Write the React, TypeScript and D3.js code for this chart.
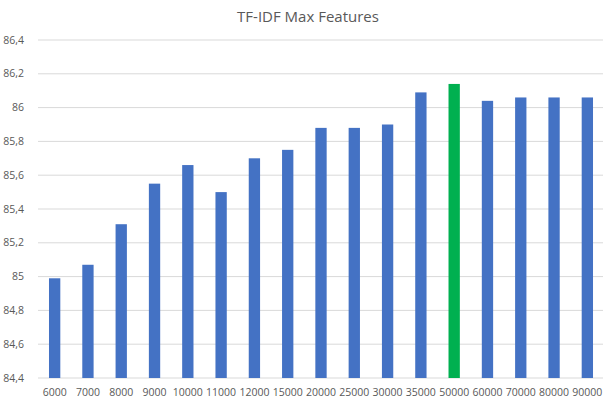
import React from "react";
import * as d3 from "d3";

const categories = ["6000","7000","8000","9000","10000","11000","12000","15000","20000","25000","30000","35000","50000","60000","70000","80000","90000"];
const values = [84.99,85.07,85.31,85.55,85.66,85.50,85.70,85.75,85.88,85.88,85.90,86.09,86.14,86.04,86.06,86.06,86.06];
const highlight = "50000";
const yTicks = [84.4,84.6,84.8,85,85.2,85.4,85.6,85.8,86,86.2,86.4];
const title = "TF-IDF Max Features";

export default function App() {
  const W = 603, H = 401;
  const left = 38, right = 604, top = 40, bottom = 378;
  const x = d3.scaleBand<string>().domain(categories).range([left, right]).paddingInner(0.66).paddingOuter(0.33);
  const y = d3.scaleLinear().domain([84.4, 86.4]).range([bottom, top]);
  const fmt = (v: number) => d3.format("~g")(+v.toFixed(1)).replace(".", ",");
  const font = "'Open Sans', 'Liberation Sans', sans-serif";
  return (
    <svg width={W} height={H} style={{ position: "absolute", left: 0, top: 0, background: "#fff" }} fontFamily={font}>
      <rect x={0} y={0} width={W} height={H} fill="#fff" />
      <text x={308} y={22} textAnchor="middle" fontSize={15} fill="#595959">{title}</text>
      {yTicks.map((t) => (
        <g key={t}>
          <line x1={left} x2={603} y1={y(t)} y2={y(t)} stroke="#d9d9d9" strokeWidth={1} />
          <text x={24} y={y(t)} dy="0.35em" textAnchor="end" fontSize={10.5} fill="#595959">{fmt(t)}</text>
        </g>
      ))}
      {categories.map((c, i) => (
        <rect key={c} x={x(c)!} width={x.bandwidth()} y={y(values[i])} height={y(84.4) - y(values[i])}
          fill={c === highlight ? "#00B050" : "#4472C4"} />
      ))}
      {categories.map((c) => (
        <text key={c} x={x(c)! + x.bandwidth() / 2} y={396} textAnchor="middle" fontSize={10.5} fill="#595959">{c}</text>
      ))}
    </svg>
  );
}
